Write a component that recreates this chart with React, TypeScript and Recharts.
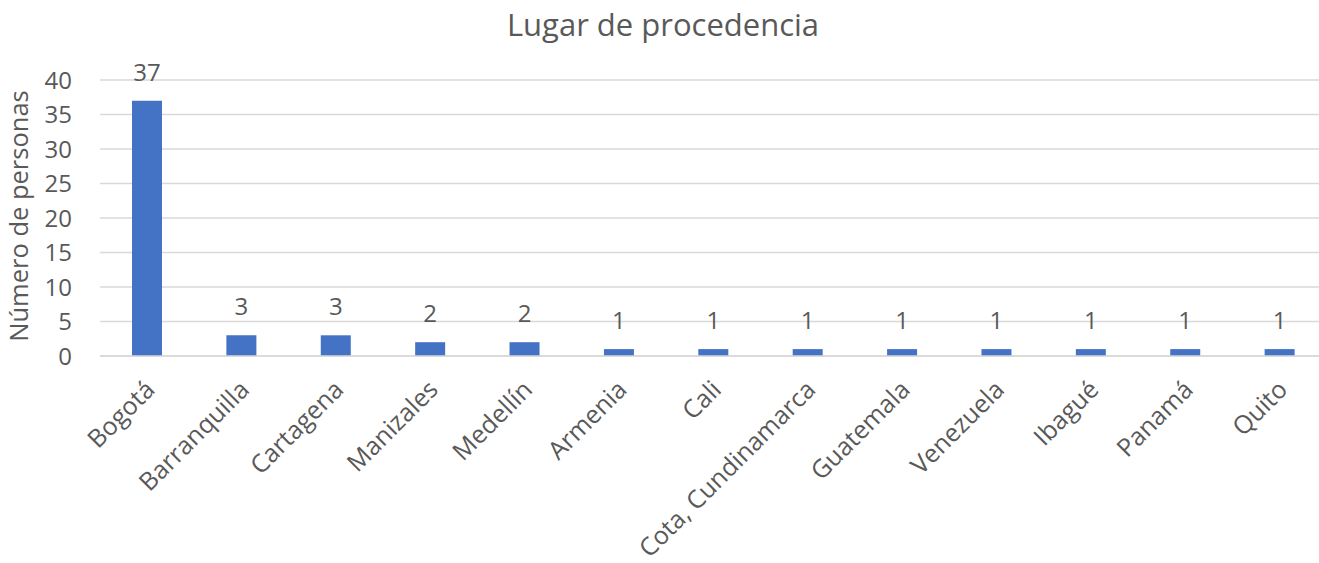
import React from 'react';
import { BarChart, Bar, XAxis, YAxis, CartesianGrid, LabelList } from 'recharts';

const categories = ['Bogotá', 'Barranquilla', 'Cartagena', 'Manizales', 'Medellín', 'Armenia', 'Cali', 'Cota, Cundinamarca', 'Guatemala', 'Venezuela', 'Ibagué', 'Panamá', 'Quito'];
const personas = [37, 3, 3, 2, 2, 1, 1, 1, 1, 1, 1, 1, 1];
const yTicks = [0, 5, 10, 15, 20, 25, 30, 35, 40];
const title = 'Lugar de procedencia';
const yLabel = 'Número de personas';

const data = categories.map((c, i) => ({ name: c, value: personas[i] }));

const FONT = '"Open Sans", sans-serif';
const TEXT = '#595959';

const XTick = (props: any) => {
  const { x, y, payload } = props;
  return (
    <g transform={`translate(${x + 3},${y + 29})`}>
      <text x={0} y={0} dy="0.35em" textAnchor="end" transform="rotate(-45)" fill={TEXT} fontSize={25} fontFamily={FONT}>
        {payload.value}
      </text>
    </g>
  );
};

const YTick = (props: any) => {
  const { x, y, payload } = props;
  return (
    <text x={x} y={y} dy="0.36em" textAnchor="end" fill={TEXT} fontSize={24} fontFamily={FONT}>
      {payload.value}
    </text>
  );
};

const TopLabel = (props: any) => {
  const { x, y, width, value } = props;
  return (
    <text x={x + width / 2} y={y - 20} textAnchor="middle" fill={TEXT} fontSize={24} fontFamily={FONT}>
      {value}
    </text>
  );
};

const YAxisLabel = (props: any) => {
  const { viewBox } = props;
  const cx = 28;
  const cy = viewBox.y + viewBox.height / 2 - 2;
  return (
    <text x={cx} y={cy} textAnchor="middle" transform={`rotate(-90, ${cx}, ${cy})`} fill={TEXT} fontSize={25.5} fontFamily={FONT}>
      {yLabel}
    </text>
  );
};

export default function App() {
  return (
    <div style={{ position: 'fixed', left: 0, top: 0, width: 1319, height: 563, overflow: 'hidden', background: '#fff' }}>
      <svg width={1319} height={60} style={{ position: 'absolute', left: 0, top: 0, zIndex: 1 }}>
        <text x={663} y={35.5} textAnchor="middle" fill={TEXT} fontSize={31} fontFamily={FONT}>
          {title}
        </text>
      </svg>
      <BarChart width={1319} height={563} data={data} margin={{ top: 80, right: 0, left: 0, bottom: 0 }}>
        <CartesianGrid vertical={false} stroke="#D9D9D9" strokeWidth={1.4} />
        <XAxis dataKey="name" interval={0} height={207} padding={{ left: 0, right: -8 }} tickLine={false} tickSize={0} tickMargin={0} axisLine={{ stroke: '#D9D9D9', strokeWidth: 1.4 }} tick={<XTick />} />
        <YAxis width={100} domain={[0, 40]} ticks={yTicks} axisLine={false} tickLine={false} tickSize={0} tickMargin={28} tick={<YTick />} label={<YAxisLabel />} />
        <Bar dataKey="value" fill="#4472C4" barSize={30} isAnimationActive={false}>
          <LabelList dataKey="value" content={<TopLabel />} />
        </Bar>
      </BarChart>
    </div>
  );
}
